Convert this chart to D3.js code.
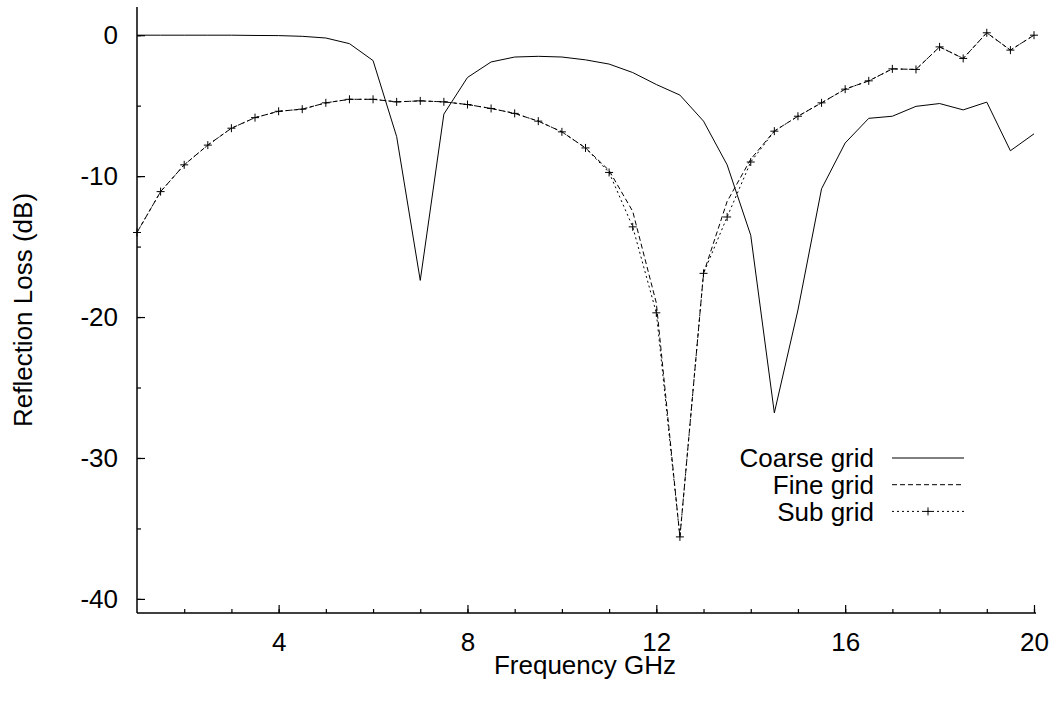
<!DOCTYPE html>
<html>
<head>
<meta charset="utf-8">
<script src="https://cdn.jsdelivr.net/npm/d3@7"></script>
<style>
  body { margin: 0; background: #fff; }
  svg { display: block; font-family: "Liberation Sans", Arial, sans-serif; }
</style>
</head>
<body>
<div id="chart"></div>
<script>
// frequency samples (GHz), every 0.5 from 1 to 20
var freq = [1, 1.5, 2, 2.5, 3, 3.5, 4, 4.5, 5, 5.5, 6, 6.5, 7, 7.5, 8, 8.5, 9, 9.5, 10,
            10.5, 11, 11.5, 12, 12.5, 13, 13.5, 14, 14.5, 15, 15.5, 16, 16.5, 17, 17.5,
            18, 18.5, 19, 19.5, 20];

var coarseLoss = [0, 0, 0, 0, 0, -0.02, -0.03, -0.08, -0.2, -0.6, -1.8, -7.2, -17.4, -5.6,
                  -3.0, -1.9, -1.55, -1.5, -1.55, -1.75, -2.05, -2.65, -3.5, -4.25, -6.1,
                  -9.2, -14.2, -26.8, -19.5, -10.9, -7.65, -5.9, -5.75, -5.05, -4.85, -5.3,
                  -4.75, -8.2, -7.0];

var fineLoss = [-14.0, -11.1, -9.2, -7.8, -6.6, -5.85, -5.4, -5.25, -4.8, -4.55, -4.55,
                -4.73, -4.66, -4.73, -4.92, -5.2, -5.55, -6.1, -6.86, -8.0, -9.6, -12.5,
                -19.0, -35.6, -16.9, -11.8, -8.8, -6.8, -5.75, -4.8, -3.83, -3.24, -2.39,
                -2.43, -0.83, -1.65, 0.17, -1.06, 0.0];

var subLoss = [-14.0, -11.1, -9.2, -7.8, -6.6, -5.85, -5.4, -5.25, -4.8, -4.55, -4.55,
               -4.73, -4.66, -4.73, -4.92, -5.2, -5.55, -6.1, -6.86, -8.0, -9.74, -13.6,
               -19.7, -35.6, -16.9, -12.9, -9.0, -6.81, -5.75, -4.8, -3.83, -3.24, -2.39,
               -2.43, -0.83, -1.65, 0.17, -1.06, 0.0];

var seriesNames = ["Coarse grid", "Fine grid", "Sub grid"];
var xTickMajor = [4, 8, 12, 16, 20];
var yTicks = [0, -10, -20, -30, -40];

var width = 1054, height = 701;
var fontSize = 26;

var svg = d3.select("#chart").append("svg")
    .attr("width", width)
    .attr("height", height);

var x = d3.scaleLinear().domain([1, 20]).range([137, 1034]);
var y = d3.scaleLinear().domain([-41, 2]).range([613, 7]);

// minor ticks every 1 GHz and every 5 dB
var xMinor = d3.range(2, 21, 1);
var yMinor = d3.range(-40, 1, 5);

svg.append("g")
    .attr("transform", "translate(0,613)")
    .call(d3.axisBottom(x).tickValues(xMinor).tickSize(-4).tickFormat(""))
    .call(g => g.select(".domain").remove());

svg.append("g")
    .attr("transform", "translate(137,0)")
    .call(d3.axisLeft(y).tickValues(yMinor).tickSize(-4).tickFormat(""))
    .call(g => g.select(".domain").remove());

// plain hyphen minus like the original plot
var fmt = function(d) { return String(d); };

var xAxis = svg.append("g")
    .attr("transform", "translate(0,613)")
    .call(d3.axisBottom(x).tickValues(xTickMajor).tickSize(-8).tickSizeOuter(0).tickPadding(20)
        .tickFormat(fmt));

var yAxis = svg.append("g")
    .attr("transform", "translate(137,0)")
    .call(d3.axisLeft(y).tickValues(yTicks).tickSize(-8).tickSizeOuter(0).tickPadding(19)
        .tickFormat(fmt));

xAxis.select(".domain").attr("d", "M137,0H1036");
yAxis.select(".domain").attr("d", "M0,613V7");

svg.selectAll(".tick line").attr("stroke", "#000").attr("stroke-width", 1.2);
svg.selectAll(".domain").attr("stroke", "#000").attr("stroke-width", 1.5);
svg.selectAll(".tick text")
    .attr("font-family", "Liberation Sans, Arial, sans-serif")
    .attr("font-size", fontSize)
    .attr("fill", "#000");

// axis titles
svg.append("text")
    .attr("x", 585)
    .attr("y", 674)
    .attr("text-anchor", "middle")
    .attr("font-size", fontSize)
    .text("Frequency GHz");

svg.append("text")
    .attr("transform", "translate(32,310) rotate(-90)")
    .attr("text-anchor", "middle")
    .attr("font-size", fontSize)
    .text("Reflection Loss (dB)");

var line = d3.line()
    .x(function(d) { return x(d[0]); })
    .y(function(d) { return y(d[1]); });

var styles = [
    {data: coarseLoss, dash: null},
    {data: fineLoss, dash: "5,3"},
    {data: subLoss, dash: "2,3"}
];

styles.forEach(function(s) {
    svg.append("path")
        .datum(freq.map(function(f, i) { return [f, s.data[i]]; }))
        .attr("fill", "none")
        .attr("stroke", "#000")
        .attr("stroke-width", 1)
        .attr("stroke-dasharray", s.dash)
        .attr("d", line);
});

// plus markers on the sub grid
var cross = "M-4,0H4M0,-4V4";
svg.append("g")
    .selectAll("path")
    .data(freq.map(function(f, i) { return [f, subLoss[i]]; }))
    .enter().append("path")
    .attr("transform", function(d) { return "translate(" + x(d[0]) + "," + y(d[1]) + ")"; })
    .attr("d", cross)
    .attr("stroke", "#000")
    .attr("stroke-width", 1);

// legend
var legend = svg.append("g");
seriesNames.forEach(function(name, i) {
    var ly = 458 + i * 26.7;
    legend.append("text")
        .attr("x", 874)
        .attr("y", ly)
        .attr("dy", "0.35em")
        .attr("text-anchor", "end")
        .attr("font-size", fontSize)
        .text(name);
    legend.append("line")
        .attr("x1", 892).attr("x2", 964)
        .attr("y1", ly).attr("y2", ly)
        .attr("stroke", "#000")
        .attr("stroke-width", 1)
        .attr("stroke-dasharray", styles[i].dash);
    if (i == 2) {
        legend.append("path")
            .attr("transform", "translate(928," + ly + ")")
            .attr("d", cross)
            .attr("stroke", "#000");
    }
});
</script>
</body>
</html>
